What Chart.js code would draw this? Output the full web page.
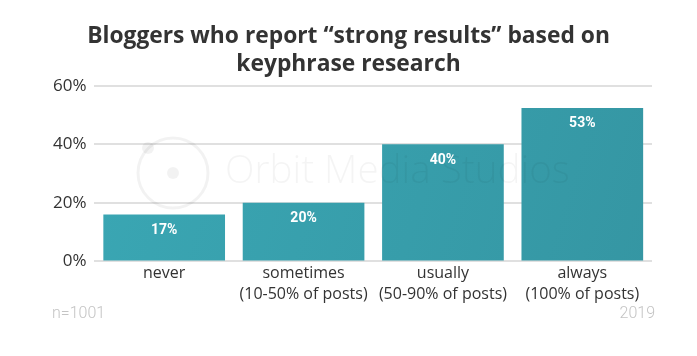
<!DOCTYPE html>
<html>
<head>
<meta charset="utf-8">
<script src="https://cdn.jsdelivr.net/npm/chart.js@4"></script>
<style>
html,body{margin:0;padding:0;background:#fff;}
#wrap{width:697px;height:356px;position:relative;}
</style>
</head>
<body>
<div id="wrap"><canvas id="c"></canvas></div>
<script>
const categories = [
  ["never"],
  ["sometimes", "(10-50% of posts)"],
  ["usually", "(50-90% of posts)"],
  ["always", "(100% of posts)"]
];
const values = [16, 20, 40, 52.4];
const valueLabels = ["17%", "20%", "40%", "53%"];
const yTicks = [0, 20, 40, 60];
const titleLines = ["Bloggers who report \u201cstrong results\u201d based on", "keyphrase research"];
const footLeft = "n=1001";
const footRight = "2019";
const watermark = "Orbit Media Studios";

const extras = {
  id: 'extras',
  beforeDatasetsDraw(chart) {
    const {ctx} = chart;
    ctx.save();
    ctx.strokeStyle = 'rgba(0,0,0,0.05)';
    ctx.fillStyle = 'rgba(0,0,0,0.05)';
    ctx.lineWidth = 3;
    ctx.beginPath();
    ctx.arc(173, 173, 35, 0, Math.PI * 2);
    ctx.stroke();
    ctx.beginPath();
    ctx.arc(173, 173, 6, 0, Math.PI * 2);
    ctx.fill();
    ctx.beginPath();
    ctx.arc(148, 148, 6, 0, Math.PI * 2);
    ctx.fill();
    ctx.restore();
  },
  afterDatasetsDraw(chart) {
    const {ctx} = chart;
    ctx.save();
    ctx.font = '300 48px "Open Sans", sans-serif';
    const w = ctx.measureText(watermark).width;
    const size = 48 * 345 / w;
    ctx.font = '300 ' + size.toFixed(1) + 'px "Open Sans", sans-serif';
    ctx.textBaseline = 'middle';
    ctx.textAlign = 'left';
    ctx.fillStyle = 'rgba(0,0,0,0.045)';
    ctx.fillText(watermark, 225, 172);

    const meta = chart.getDatasetMeta(0);
    ctx.fillStyle = '#ffffff';
    ctx.font = 'bold 14px "Roboto", sans-serif';
    ctx.textAlign = 'center';
    meta.data.forEach((bar, i) => {
      ctx.fillText(valueLabels[i], bar.x, bar.y + 16);
    });
    ctx.restore();
  },
  afterDraw(chart) {
    const {ctx} = chart;
    ctx.save();
    ctx.fillStyle = '#c4c4c4';
    ctx.font = '300 16px "Roboto", sans-serif';
    ctx.textBaseline = 'middle';
    ctx.textAlign = 'left';
    ctx.fillText(footLeft, 52, 314);
    ctx.textAlign = 'right';
    ctx.fillText(footRight, 655, 314);
    ctx.restore();
  }
};

new Chart(document.getElementById('c'), {
  type: 'bar',
  data: {
    labels: categories,
    datasets: [{
      data: values,
      backgroundColor: (c) => {
        const chart = c.chart;
        const area = chart.chartArea;
        if (!area) return '#37a0ad';
        const g = chart.ctx.createLinearGradient(area.left, area.top, area.right, area.bottom);
        g.addColorStop(0, '#3aa7b4');
        g.addColorStop(1, '#3596a3');
        return g;
      },
      borderWidth: 0,
      categoryPercentage: 1,
      barPercentage: 0.873
    }]
  },
  plugins: [extras],
  options: {
    responsive: true,
    maintainAspectRatio: false,
    animation: false,
    layout: {padding: {left: 45, right: 45, top: 11, bottom: 49}},
    plugins: {
      legend: {display: false},
      tooltip: {enabled: false},
      title: {
        display: true,
        text: titleLines,
        color: '#333333',
        font: {family: '"Open Sans", sans-serif', size: 22.8, weight: 'bold', lineHeight: 1.2},
        padding: {top: 12, bottom: 8}
      }
    },
    scales: {
      x: {
        grid: {display: false, drawTicks: false},
        border: {display: false},
        ticks: {color: '#333333', font: {family: '"Open Sans", sans-serif', size: 16, lineHeight: 1.3}, padding: 2, maxRotation: 0}
      },
      y: {
        min: 0, max: 60,
        afterBuildTicks: (axis) => { axis.ticks = yTicks.map(v => ({value: v})); },
        grid: {color: '#e0e0e0', lineWidth: 2, drawTicks: false},
        border: {display: false},
        ticks: {color: '#333333', font: {family: '"Open Sans", sans-serif', size: 17}, padding: 8,
          callback: (v) => v + '%'}
      }
    }
  }
});
</script>
</body>
</html>
